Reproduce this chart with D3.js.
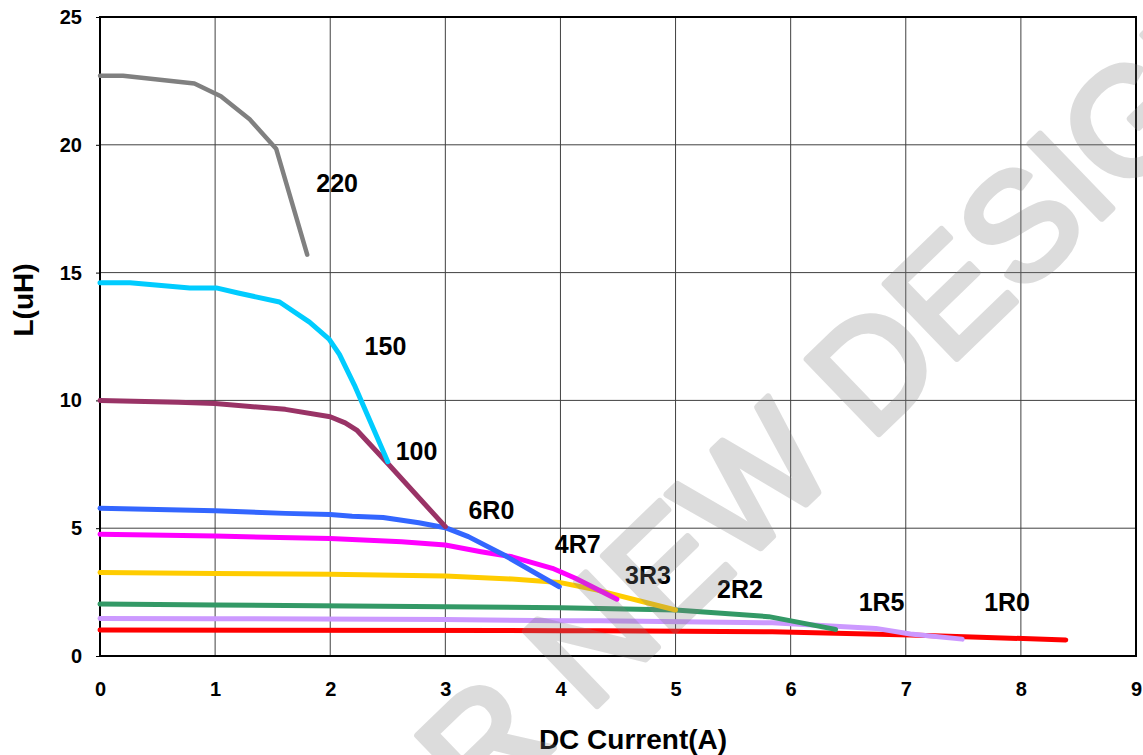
<!DOCTYPE html>
<meta charset="utf-8">
<style type="text/css">
body {
  margin: 0;
  font-family: "Liberation Sans", Arial, sans-serif;
  background: #fff;
}

.axis text {
  font-size: 20px;
  font-weight: bold;
  fill: #000;
}

.grid line {
  stroke: #404040;
  stroke-width: 1px;
}

.curve {
  fill: none;
  stroke-linejoin: round;
  stroke-linecap: round;
}

.label {
  font-size: 25px;
  font-weight: bold;
}

.title {
  font-size: 28px;
  font-weight: bold;
}
</style>
<body>
<script src="https://cdnjs.cloudflare.com/ajax/libs/d3/7.8.5/d3.min.js"></script>
<script>
// inductance vs DC current, one array of [A, uH] per part number
var s220 = [[0, 22.7], [0.2, 22.7], [0.82, 22.4], [1.05, 21.9], [1.3, 21.0], [1.53, 19.85], [1.8, 15.7]];
var s150 = [[0, 14.6], [0.26, 14.6], [0.78, 14.4], [1.01, 14.4], [1.2, 14.2], [1.56, 13.85], [1.82, 13.06], [1.99, 12.4], [2.08, 11.8], [2.21, 10.6], [2.5, 7.6]];
var s100 = [[0, 10.0], [0.68, 9.93], [1.0, 9.88], [1.61, 9.65], [2.0, 9.36], [2.13, 9.12], [2.23, 8.84], [2.5, 7.53], [3.0, 5.06]];
var s6R0 = [[0, 5.78], [1.0, 5.68], [1.61, 5.58], [2.0, 5.54], [2.19, 5.47], [2.46, 5.42], [2.77, 5.21], [3.0, 5.02], [3.2, 4.67], [3.51, 3.95], [3.99, 2.71]];
var s4R7 = [[0, 4.76], [1.0, 4.69], [2.0, 4.6], [2.62, 4.47], [3.0, 4.34], [3.31, 4.08], [3.58, 3.88], [3.93, 3.43], [4.13, 3.04], [4.49, 2.22]];
var s3R3 = [[0, 3.27], [1.0, 3.23], [2.0, 3.2], [3.0, 3.13], [3.58, 3.01], [3.99, 2.88], [4.32, 2.58], [5.0, 1.8]];
var s2R2 = [[0, 2.03], [1.0, 2.0], [3.0, 1.93], [4.0, 1.89], [4.34, 1.86], [5.0, 1.8], [5.81, 1.54], [6.39, 1.04]];
var s1R5 = [[0, 1.47], [1.0, 1.46], [3.0, 1.43], [4.0, 1.38], [4.34, 1.38], [5.84, 1.3], [6.74, 1.08], [7.04, 0.86], [7.49, 0.66]];
var s1R0 = [[0, 1.02], [4.0, 0.99], [4.34, 0.99], [5.84, 0.95], [7.04, 0.82], [8.39, 0.63]];

var names = ["1R0", "1R5", "2R2", "3R3", "4R7", "6R0", "100", "150", "220"];
var series = [s1R0, s1R5, s2R2, s3R3, s4R7, s6R0, s100, s150, s220];
var colors = ["#ff0000", "#cc99ff", "#339966", "#ffcc00", "#ff00ff", "#3366ff", "#993366", "#00ccff", "#808080"];
// label anchor points in data units [A, uH]
var labelAt = [[7.88, 2.11], [6.79, 2.11], [5.56, 2.62], [4.76, 3.17], [4.15, 4.38], [3.4, 5.7], [2.75, 8.0], [2.48, 12.1], [2.06, 18.5]];

var xTicks = [0, 1, 2, 3, 4, 5, 6, 7, 8, 9];
var yTicks = [0, 5, 10, 15, 20, 25];

var margin = { top: 17, right: 7, bottom: 99, left: 100 };
var width = 1143 - margin.left - margin.right;
var height = 755 - margin.top - margin.bottom;

var root = d3.select("body")
  .append("svg")
    .attr("width", 1143)
    .attr("height", 755);

var svg = root.append("g")
    .attr("transform", "translate(" + margin.left + "," + margin.top + ")");

var xscale = d3.scaleLinear()
  .domain([0, 9])
  .range([0, width]);

var yscale = d3.scaleLinear()
  .domain([0, 25])
  .range([height, 0]);

// grid
var grid = svg.append("g").attr("class", "grid");
grid.selectAll(".gx")
  .data(xTicks.slice(1, -1))
  .enter().append("line")
    .attr("x1", function(d) { return xscale(d); })
    .attr("x2", function(d) { return xscale(d); })
    .attr("y1", 0)
    .attr("y2", height);
grid.selectAll(".gy")
  .data(yTicks.slice(1, -1))
  .enter().append("line")
    .attr("x1", 0)
    .attr("x2", width)
    .attr("y1", function(d) { return yscale(d); })
    .attr("y2", function(d) { return yscale(d); });

var xAxis = d3.axisBottom(xscale)
  .tickValues(xTicks)
  .tickSize(0)
  .tickPadding(26);

var yAxis = d3.axisLeft(yscale)
  .tickValues(yTicks)
  .tickSize(4)
  .tickPadding(14);

svg.append("g")
  .attr("class", "x axis")
  .attr("transform", "translate(0," + height + ")")
  .call(xAxis)
  .call(function(g) { g.select(".domain").remove(); });

svg.append("g")
  .attr("class", "y axis")
  .call(yAxis)
  .call(function(g) {
    g.select(".domain").remove();
    g.selectAll(".tick line").attr("stroke", "#000");
  });

svg.append("rect")
  .attr("width", width)
  .attr("height", height)
  .attr("fill", "none")
  .attr("stroke", "#000")
  .attr("stroke-width", 2);

var line = d3.line()
  .x(function(d) { return xscale(d[0]); })
  .y(function(d) { return yscale(d[1]); });

svg.selectAll(".curve")
  .data(series)
  .enter().append("path")
    .attr("class", "curve")
    .attr("d", line)
    .attr("stroke", function(d, i) { return colors[i]; })
    .attr("stroke-width", function(d, i) { return names[i] == "220" ? 4.5 : 5; });

svg.selectAll(".label")
  .data(names)
  .enter().append("text")
    .attr("class", "label")
    .attr("text-anchor", "middle")
    .attr("dy", "0.35em")
    .attr("x", function(d, i) { return xscale(labelAt[i][0]); })
    .attr("y", function(d, i) { return yscale(labelAt[i][1]); })
    .text(function(d) { return d; });

root.append("text")
  .attr("class", "title")
  .attr("x", 633)
  .attr("y", 749)
  .attr("text-anchor", "middle")
  .text("DC Current(A)");

root.append("text")
  .attr("class", "title")
  .attr("transform", "translate(33,300) rotate(-90)")
  .attr("text-anchor", "middle")
  .text("L(uH)");

// watermark over everything, "D" of DESIGN put at about (870,442)
var wm = root.append("text")
  .attr("transform", "translate(870,442) rotate(-44)")
  .style("font-size", "150px")
  .attr("fill", "#808080")
  .attr("stroke", "#808080")
  .attr("stroke-width", 7)
  .attr("stroke-linejoin", "round")
  .attr("opacity", 0.27)
  .text("NOT FOR NEW DESIGN");
var pre = wm.node().getSubStringLength(0, 12);
wm.attr("x", -pre);
</script>
</body>
